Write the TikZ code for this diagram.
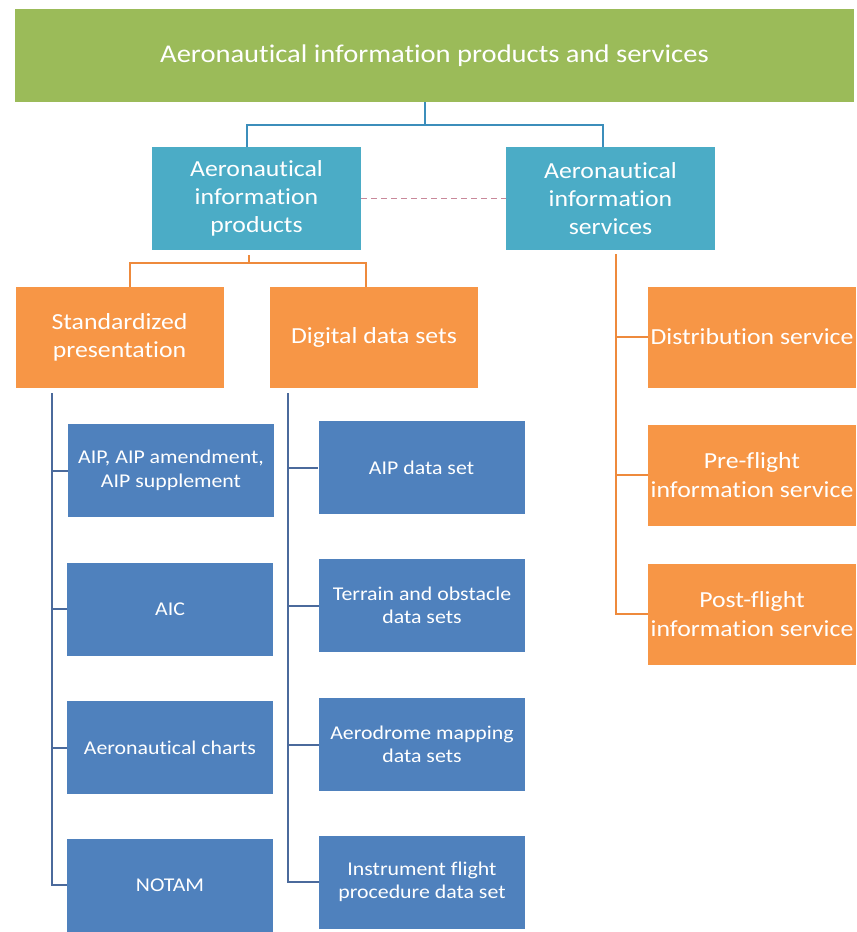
\documentclass[tikz,border=0pt]{standalone}
\usepackage{fontspec}
\setmainfont{Carlito}[FakeStretch=1.12, Ligatures={NoCommon}]
\definecolor{cgreen}{HTML}{9BBB59}
\definecolor{cteal}{HTML}{4BACC6}
\definecolor{corange}{HTML}{F79646}
\definecolor{cblue}{HTML}{4F81BD}
\definecolor{lteal}{HTML}{3C8EBB}
\definecolor{lorange}{HTML}{EE8A3C}
\definecolor{lblue}{HTML}{4B6A9C}
\definecolor{ldash}{HTML}{C8889A}
\begin{document}
\begin{tikzpicture}[x=1pt,y=-1pt,
  box/.style={rectangle, inner sep=2pt, align=center, text=white},
  greenbox/.style={box, fill=cgreen, minimum width=839pt, minimum height=93pt,
    font=\fontsize{25.5}{30}\selectfont},
  tealbox/.style={box, fill=cteal, minimum width=209pt, minimum height=103pt,
    font=\fontsize{23}{28}\selectfont},
  orangebox/.style={box, fill=corange, minimum width=208pt, minimum height=101pt,
    font=\fontsize{23}{28.5}\selectfont},
  bluebox/.style={box, fill=cblue, minimum width=206pt, minimum height=93pt,
    font=\fontsize{19.5}{23.5}\selectfont},
  tealline/.style={draw=lteal, line width=2pt},
  orangeline/.style={draw=lorange, line width=2pt},
  blueline/.style={draw=lblue, line width=2pt},
  dashline/.style={draw=ldash, line width=0.9pt, dash pattern=on 6pt off 4pt}]
\useasboundingbox (0,0) rectangle (857,932);

% top level
\node[greenbox] (top) at (434.5,55.5) {Aeronautical information products and services};

% second level
\node[tealbox] (prod) at (256.5,198.5) {Aeronautical\\information\\products};
\node[tealbox] (serv) at (610.5,198.5) {Aeronautical\\information\\services};

% products branch
\node[orangebox] (std) at (119.5,337.5) {Standardized\\presentation};
\node[orangebox] (dig) at (374,337.5) {Digital data sets};

% services branch
\node[orangebox] (dist) at (752,337) {Distribution service};
\node[orangebox] (pre)  at (752,475) {Pre-flight\\information service};
\node[orangebox] (post) at (752,614) {Post-flight\\information service};

% standardized presentation items
\node[bluebox] (aip)   at (171,470.5) {AIP, AIP amendment,\\AIP supplement};
\node[bluebox] (aic)   at (170,609)   {AIC};
\node[bluebox] (chart) at (170,747.5) {Aeronautical charts};
\node[bluebox] (notam) at (170,885)   {NOTAM};

% digital data set items
\node[bluebox] (aipds) at (421.5,467.5) {AIP data set};
\node[bluebox] (terr)  at (422,605.5)   {Terrain and obstacle\\data sets};
\node[bluebox] (aero)  at (422,744.5)   {Aerodrome mapping\\data sets};
\node[bluebox] (ifp)   at (422,882)     {Instrument flight\\procedure data set};

% connectors from the top box
\draw[tealline] ([xshift=-9.5pt]top.south) -- ++(0,23) coordinate (tb);
\draw[tealline] (tb) -| ([xshift=-9.5pt]prod.north);
\draw[tealline] (tb) -| ([xshift=-7.5pt]serv.north);

% link between products and services
\draw[dashline] (prod.east) -- (serv.west);

% products to its two groups
\draw[orangeline] ([xshift=-7.5pt,yshift=-5pt]prod.south) -- ++(0,8) coordinate (ob);
\draw[orangeline] (ob) -| ([xshift=10.5pt]std.north);
\draw[orangeline] (ob) -| ([xshift=-8pt]dig.north);

% services spine
\foreach \n in {dist,pre,post}
  \draw[orangeline] ([xshift=5.5pt,yshift=-4pt]serv.south) |- (\n.west);

% standardized presentation spine
\foreach \n in {aip,aic,chart,notam}
  \draw[blueline] ([xshift=37pt,yshift=-5pt]std.south west) |- (\n.west);

% digital data sets spine
\foreach \n in {aipds,terr,aero,ifp}
  \draw[blueline] ([xshift=18.5pt,yshift=-5pt]dig.south west) |- (\n.west);
\end{tikzpicture}
\end{document}
